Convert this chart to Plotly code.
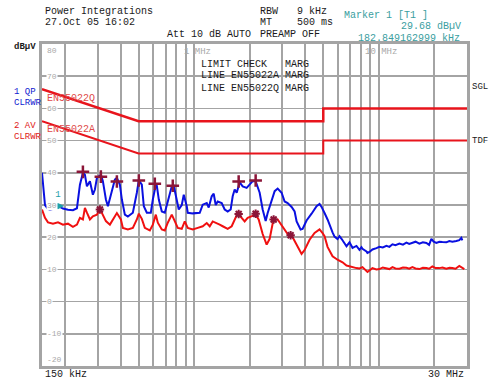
import plotly.graph_objects as go
import math

# ---------------- data ----------------
qp_freq_khz = [150, 153.5, 155.7, 161.6, 165.7, 172, 176.3, 183.1, 194.8, 207.3, 220.6, 231.9, 234.8,
               240.7, 249.8, 256.1, 262.6, 272.6, 282.9, 290.1, 297.4, 312.5, 320.4, 332.7, 341.1,
               358.5, 372.1, 381.5, 396, 406, 421.4, 437.5, 465.5, 489.3, 501.6, 520.7, 533.8, 554.2,
               582.5, 597.2, 619.9, 627.7, 643.5, 668, 693.3, 719.7, 756.4, 775.4, 804.9, 825.2,
               856.6, 878.2, 911.6, 923, 982.6, 1071.8, 1112.6, 1169.4, 1198.8, 1244.4, 1275.8,
               1307.9, 1340.9, 1409.4, 1463, 1518.7, 1576.5, 1616.4, 1657, 1698.8, 1763.4, 1830.5,
               1923.9, 1997.1, 2073.2, 2151.9, 2207, 2262.6, 2348.7, 2438.1, 2499.6, 2627.4, 2727.5,
               2831.3, 2975.1, 3088.4, 3206, 3369.8, 3498, 3586.4, 3767.8, 3862.8, 4060.2, 4321.2,
               4598.9, 4773.9, 4894.5, 5080.2, 5273.7, 5612.6, 5754, 5971.6, 6122, 6276.8, 6515.7,
               6680.1, 6934.4, 7109.4, 7198.4, 7564, 7851.6, 8049.8, 8150.6, 8564.9, 8672.1, 8891,
               9229, 9700, 10069, 10500, 10989, 11400, 11847, 12300, 12917, 13500, 14095, 14600,
               15187, 15800, 16570, 17300, 18079, 18700, 19240, 19800, 20475, 21252, 22061, 23189,
               24069, 24984, 26258, 27258, 27945, 28295]
qp_dbuv = [40.0, 35.0, 30.0, 28.8, 28.5, 28.8, 29.5, 29.7, 28.9, 28.5, 28.4, 29.0, 31.7,
           36.3, 40.0, 39.4, 35.8, 37.4, 33.2, 34.8, 38.4, 39.4, 37.4, 31.7, 29.6,
           34.8, 37.9, 38.4, 36.3, 31.7, 27.0, 26.4, 27.6, 33.8, 37.7, 36.3, 29.6, 27.6,
           27.6, 31.7, 36.3, 36.0, 31.7, 28.0, 27.6, 31.1, 35.8, 36.0, 31.7, 28.6,
           30.0, 33.2, 29.6, 27.6, 27.4, 27.6, 30.1, 30.6, 29.2, 32.7, 33.5,
           30.0, 31.1, 30.6, 28.6, 28.0, 28.6, 32.7, 34.8, 33.8, 37.0, 35.8,
           35.3, 36.3, 37.4, 37.4, 35.8, 33.8, 28.6, 25.0, 27.5, 31.7, 34.3,
           35.1, 33.8, 31.1, 30.6, 29.4, 28.0, 24.9, 22.4, 22.6, 25.2, 27.3,
           29.6, 30.3, 29.4, 27.5, 25.5, 21.5, 20.2, 19.4, 20.3, 19.5, 18.0,
           17.2, 18.4, 17.5, 16.7, 17.3, 16.1, 16.9, 16.4, 15.6, 15.1, 15.4,
           16.2, 16.6, 17.0, 16.8, 17.3, 17.0, 17.8, 17.5, 18.0, 17.7, 18.3, 17.9,
           18.2, 18.6, 18.0, 18.4, 18.2, 17.6, 19.5, 18.6, 18.2, 18.6, 18.5, 18.4,
           18.8, 18.6, 18.8, 19.1, 19.8, 19.0]

av_freq_khz = [150, 155.7, 161.6, 172, 183.1, 194.8, 207.3, 220.6, 231.9, 240.7, 249.8, 256.1,
               262.6, 272.6, 282.9, 297.4, 308.7, 320.4, 332.7, 349.7, 363, 381.5, 401, 411.1,
               437.5, 465.5, 489.3, 501.6, 520.7, 540.5, 575.3, 597.2, 619.9, 635.5, 668, 693.3,
               719.7, 756.4, 785.1, 815, 856.6, 878.2, 889.2, 923, 982.6, 1045.5, 1112.6, 1169.4,
               1213.8, 1260, 1324.3, 1374.7, 1427, 1518.7, 1596.3, 1657, 1720, 1807.8, 1876.5,
               1948, 2047.4, 2151.9, 2234.6, 2348.7, 2468.7, 2562.8, 2660.3, 2727.5, 2831.3,
               3012.5, 3206, 3412, 3586.4, 3815.1, 3960.3, 4214.9, 4485.6, 4773.9, 4955.7, 5080.2,
               5273.7, 5612.6, 5971.6, 6355.4, 6680.1, 6934.4, 7198.4, 7564, 7851.6, 8150.6,
               8672.1, 8891, 9229, 9700, 10069, 10500, 10989, 11400, 11847, 12300, 12917, 13500,
               14095, 14600, 15187, 15800, 16570, 17300, 18079, 18700, 19479, 20300, 21252,
               22100, 23189, 24100, 24984, 26000, 27258, 28200, 29010]
av_dbuv = [28.6, 26.0, 24.6, 24.2, 24.6, 23.9, 24.2, 23.2, 23.9, 26.0, 25.5, 29.1,
           27.6, 25.5, 26.5, 27.0, 28.8, 27.0, 25.0, 23.9, 25.5, 27.5, 25.5, 22.9,
           22.4, 22.9, 25.5, 27.3, 25.7, 22.9, 22.1, 23.9, 27.0, 24.5, 22.4, 22.1,
           24.5, 27.0, 25.0, 22.9, 22.6, 23.9, 24.9, 22.9, 22.4, 22.9, 23.4, 24.4,
           23.4, 24.9, 24.4, 23.9, 23.4, 22.6, 23.4, 25.5, 27.5, 26.0, 24.9,
           26.0, 26.5, 27.0, 25.5, 21.0, 17.7, 19.5, 24.2, 25.5, 25.5,
           23.4, 21.0, 20.0, 17.5, 14.8, 16.0, 19.2, 21.3, 22.4, 21.3, 20.3,
           17.0, 14.1, 13.0, 12.2, 11.2, 10.9, 10.7, 10.4, 10.3, 10.7,
           9.2, 9.6, 10.4, 10.0, 10.1, 10.6, 10.4, 10.1, 10.7, 10.3, 10.2, 10.6,
           10.5, 10.2, 10.7, 10.3, 10.1, 10.5, 10.4, 10.2, 10.9, 10.4, 10.4,
           10.6, 10.2, 10.5, 10.4, 10.2, 11.1, 10.5, 10.1]

limit_q_freq_khz = [150, 500, 5000, 5000, 30000]
limit_q_dbuv = [66, 56, 56, 60, 60]
limit_a_freq_khz = [150, 500, 5000, 5000, 30000]
limit_a_dbuv = [56, 46, 46, 50, 50]

qp_peak_freq_khz = [249.8, 312.5, 381.5, 501.6, 612.2, 765.9, 1741.5, 2151.9]
qp_peak_dbuv = [40.3, 38.8, 37.3, 37.6, 36.6, 36.0, 37.3, 37.6]
av_peak_freq_khz = [308.7, 1741.5, 2151.9, 2693, 3328]
av_peak_dbuv = [28.6, 27.2, 27.3, 25.5, 20.6]

marker1_freq_khz = [182.849162999]
marker1_dbuv = [29.68]

y_tick_values = [80, 70, 60, 50, 40, 30, 20, 10, 0, -10, -20]
grid_freq_khz = [200, 300, 400, 500, 600, 700, 800, 900, 1000, 2000, 3000, 4000, 5000,
                 6000, 7000, 8000, 9000, 10000, 20000]

# ---------------- layout helpers ----------------
W, H = 501, 391
L, R, T, B = 42, 34, 44, 25
PW, PH = W - L - R, H - T - B
MONO = "Liberation Mono, Courier New, monospace"


def px(x):
    return (x - L) / PW


def py(y):
    return (H - B - y) / PH


def k2hz(v):
    return [f * 1e3 for f in v]


fig = go.Figure()

fig.add_trace(go.Scatter(x=k2hz(limit_q_freq_khz), y=limit_q_dbuv, mode="lines",
                         line=dict(color="#e8141c", width=2.5), hoverinfo="skip"))
fig.add_trace(go.Scatter(x=k2hz(limit_a_freq_khz), y=limit_a_dbuv, mode="lines",
                         line=dict(color="#e8141c", width=2), hoverinfo="skip"))
fig.add_trace(go.Scatter(x=k2hz(av_freq_khz), y=av_dbuv, mode="lines",
                         line=dict(color="#f01010", width=2)))
fig.add_trace(go.Scatter(x=k2hz(qp_freq_khz), y=qp_dbuv, mode="lines",
                         line=dict(color="#0a10e0", width=2)))
fig.add_trace(go.Scatter(x=k2hz(qp_peak_freq_khz), y=qp_peak_dbuv, mode="markers",
                         marker=dict(symbol="cross-thin", size=9, color="#8b1538",
                                     line=dict(color="#8b1538", width=2.5))))
fig.add_trace(go.Scatter(x=k2hz(av_peak_freq_khz), y=av_peak_dbuv, mode="markers",
                         marker=dict(symbol="asterisk", size=7, color="#8b1538",
                                     line=dict(color="#8b1538", width=2))))
fig.add_trace(go.Scatter(x=k2hz(marker1_freq_khz), y=marker1_dbuv, mode="markers+text",
                         marker=dict(symbol="diamond-wide", size=9, color="#1fa0a8"),
                         text=["1"], textposition="top center",
                         textfont=dict(family=MONO, size=9, color="#1fa0a8")))

fig.update_xaxes(type="log", range=[math.log10(150e3), math.log10(30e6)],
                 tickvals=k2hz(grid_freq_khz), showticklabels=False, ticks="",
                 showgrid=True, gridcolor="#a4a4a4", gridwidth=2,
                 showline=True, linecolor="#a4a4a4", linewidth=3, mirror=True, zeroline=False)
fig.update_yaxes(range=[-20, 80], tickvals=y_tick_values, showticklabels=False, ticks="",
                 showgrid=True, gridcolor="#a4a4a4", gridwidth=1.5,
                 showline=True, linecolor="#a4a4a4", linewidth=3, mirror=True, zeroline=False)

ann = []


def text(x, y, s, color="#1a1a1a", size=10, anchor="left"):
    ann.append(dict(xref="paper", yref="paper", x=px(x), y=py(y), text=s, showarrow=False,
                    xanchor=anchor, yanchor="middle",
                    font=dict(family=MONO, size=size, color=color)))


text(43, 11.5, "Power Integrations")
text(43, 23, "27.Oct 05 16:02")
text(165, 34, "Att 10 dB AUTO")
text(258, 11.5, "RBW")
text(295, 11.5, "9 kHz")
text(258, 23, "MT")
text(295, 23, "500 ms")
text(258, 34, "PREAMP OFF")
text(342, 15, "Marker 1 [T1 ]", color="#3a9ea0")
text(463, 26.5, "29.68 dBµV", color="#3a9ea0", anchor="right")
text(462, 38.5, "182.849162999 kHz", color="#3a9ea0", anchor="right")
text(12, 47, "<b>dBµV</b>", size=9)
text(12, 92, "1 QP", color="#1020d0", size=9)
text(12, 103, "CLRWR", color="#1020d0", size=9)
text(12, 126, "2 AV", color="#e01818", size=9)
text(12, 137, "CLRWR", color="#e01818", size=9)
text(45, 98, "EN55022Q", color="#e04a4a")
text(45, 129, "EN55022A", color="#e04a4a")
text(199, 65, "LIMIT CHECK   MARG")
text(199, 76, "LINE EN55022A MARG")
text(199, 88, "LINE EN55022Q MARG")
text(182, 52, "1 MHz", color="#a8a8a8", size=9)
text(363, 52, "10 MHz", color="#a8a8a8", size=9)
text(470, 87, "SGL", size=9)
text(470, 141, "TDF", size=9)
text(43, 374, "150 kHz")
text(466, 374, "30 MHz", anchor="right")

for v in y_tick_values:
    shift = -6 if v == 80 else (7 if v == -20 else 0)
    ann.append(dict(xref="paper", yref="y", x=px(45.5), y=v, yshift=shift, text=str(v),
                    showarrow=False, xanchor="left", yanchor="middle", bgcolor="white",
                    borderpad=0, font=dict(family=MONO, size=8, color="#a8a8a8")))

fig.update_layout(width=W, height=H, margin=dict(l=L, r=R, t=T, b=B),
                  paper_bgcolor="white", plot_bgcolor="white", showlegend=False,
                  annotations=ann, hovermode=False)

fig.write_html("out.html", config={"displayModeBar": False, "staticPlot": True},
               post_script="document.body.style.margin='0px';document.body.style.overflow='hidden';")
